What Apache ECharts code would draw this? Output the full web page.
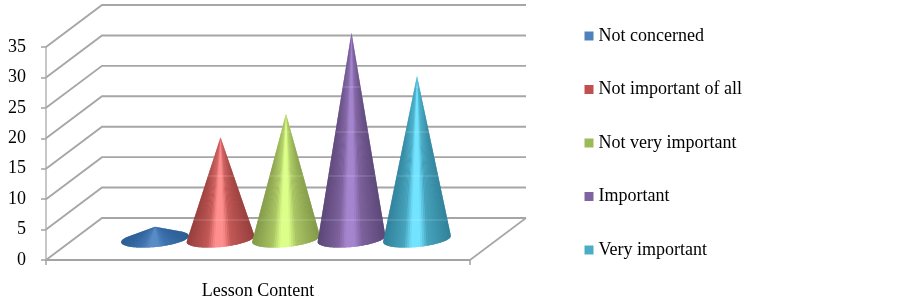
<!DOCTYPE html>
<html><head><meta charset="utf-8">
<style>html,body{margin:0;padding:0;background:#fff}#c{width:903px;height:300px}</style>
<script src="https://cdn.jsdelivr.net/npm/echarts@6/dist/echarts.min.js"></script>
</head><body><div id="c"></div>
<script>
const categories = ['Lesson Content'];
const seriesNames = ['Not concerned','Not important of all','Not very important','Important','Very important'];
const seriesValues = [2, 16.7, 20.6, 33.9, 26.8];
const yTicks = [0,5,10,15,20,25,30,35];
const legendColors = ['#4f81bd','#c0504d','#9bbb59','#8064a2','#4bacc6'];
const edgeColors = ['#2f5f96','#96403e','#82994a','#5c4878','#32829a'];
const midColors = ['#3f74b0','#c25856','#a9c463','#7d619c','#46a2bc'];
const lightColors = ['#5a8cc6','#ff8f8f','#dcff8a','#a585ce','#72e4ff'];

const FONT = '"Liberation Serif","Times New Roman",serif';
const DEPTH_X = 56, DEPTH_Y = 42, STEP = 65.5, RX = 34, RY = 8, TILT = -5.5 * Math.PI / 180;
const SEAMS = [87, 132, 176, 220];

function hull(pts) {
  const p = pts.slice().sort((a, b) => a[0] - b[0] || a[1] - b[1]);
  const cross = (o, a, b) => (a[0]-o[0])*(b[1]-o[1]) - (a[1]-o[1])*(b[0]-o[0]);
  const lo = [], up = [];
  for (const q of p) { while (lo.length > 1 && cross(lo[lo.length-2], lo[lo.length-1], q) <= 0) lo.pop(); lo.push(q); }
  for (const q of p.slice().reverse()) { while (up.length > 1 && cross(up[up.length-2], up[up.length-1], q) <= 0) up.pop(); up.push(q); }
  return lo.slice(0, -1).concat(up.slice(0, -1));
}

function seamLine(poly, y) {
  const xs = [];
  poly.forEach((a, k) => {
    const b = poly[(k + 1) % poly.length];
    if ((a[1] - y) * (b[1] - y) < 0) xs.push(a[0] + (y - a[1]) / (b[1] - a[1]) * (b[0] - a[0]));
  });
  if (xs.length < 2) return null;
  return {
    type: 'line',
    shape: { x1: Math.min(...xs), y1: y, x2: Math.max(...xs), y2: y },
    style: { stroke: 'rgba(255,255,255,0.22)', lineWidth: 1 }
  };
}

function shadeStops(i) {
  return [[0, edgeColors[i]], [0.3, midColors[i]], [0.42, lightColors[i]], [0.54, lightColors[i]], [0.66, midColors[i]], [1, edgeColors[i]]];
}

function shade(i, u) {
  const stops = shadeStops(i);
  for (let k = 1; k < stops.length; k++) {
    if (u <= stops[k][0]) {
      const t = (u - stops[k-1][0]) / (stops[k][0] - stops[k-1][0]);
      return echarts.color.lerp(Math.max(0, t), [stops[k-1][1], stops[k][1]]);
    }
  }
  return edgeColors[i];
}

function coneItem(i) {
  return function (params, api) {
    const base = api.coord([api.value(0), 0]);
    const top = api.coord([api.value(0), api.value(1)]);
    const cx = base[0] + DEPTH_X / 2 + (i - 2) * STEP;
    const cy = base[1] - DEPTH_Y / 2;
    const apex = [cx, top[1] - DEPTH_Y / 2];
    const pts = [apex];
    for (let k = 0; k < 96; k++) {
      const t = k / 96 * Math.PI * 2;
      const ex = RX * Math.cos(t), ey = RY * Math.sin(t);
      pts.push([cx + ex * Math.cos(TILT) - ey * Math.sin(TILT), cy + ex * Math.sin(TILT) + ey * Math.cos(TILT)]);
    }
    const poly = hull(pts);
    const at = poly.indexOf(apex);
    const rim = poly.slice(at + 1).concat(poly.slice(0, at));
    const xMin = Math.min(...rim.map(p => p[0])), xMax = Math.max(...rim.map(p => p[0]));
    const under = {
      type: 'polygon',
      shape: { points: poly },
      style: {
        fill: {
          type: 'linear', x: 0, y: 0, x2: 1, y2: 0,
          colorStops: shadeStops(i).map(s => ({ offset: s[0], color: s[1] }))
        }
      }
    };
    const fan = [];
    for (let k = 0; k + 1 < rim.length; k++) {
      const u = ((rim[k][0] + rim[k+1][0]) / 2 - xMin) / (xMax - xMin);
      fan.push({
        type: 'polygon',
        shape: { points: [apex, rim[k], rim[k+1]] },
        style: { fill: shade(i, u) }
      });
    }
    return { type: 'group', children: [under].concat(fan, SEAMS.map(y => seamLine(poly, y)).filter(Boolean)) };
  };
}

function wallItem(params, api) {
  const r = params.coordSys;
  const v = api.value(1);
  const y = api.coord([0, v])[1];
  const children = [{
    type: 'polyline',
    shape: { points: [[r.x, y], [r.x + DEPTH_X, y - DEPTH_Y], [r.x + r.width + DEPTH_X, y - DEPTH_Y]] },
    style: { stroke: '#a6a6a6', lineWidth: 1.9, fill: 'none' }
  }];
  if (v === 0) children.push({
    type: 'line',
    shape: { x1: r.x + r.width, y1: y, x2: r.x + r.width + DEPTH_X, y2: y - DEPTH_Y },
    style: { stroke: '#a6a6a6', lineWidth: 1.6 }
  });
  return { type: 'group', children };
}

const chart = echarts.init(document.getElementById('c'), null, { renderer: 'canvas' });
chart.setOption({
  animation: false,
  grid: { left: 46, width: 424, top: 47, height: 214 },
  legend: {
    orient: 'vertical', left: 579.5, top: 22, itemWidth: 9, itemHeight: 9, itemGap: 35.5,
    icon: 'rect', data: seriesNames, selectedMode: false,
    textStyle: { fontFamily: FONT, fontSize: 18, color: '#000', lineHeight: 18 }
  },
  xAxis: {
    type: 'category', data: categories,
    axisLine: { lineStyle: { color: '#a3a3a3', width: 2 } },
    axisTick: { show: true, length: 5, lineStyle: { color: '#a3a3a3', width: 1.5 } },
    axisLabel: { fontFamily: FONT, fontSize: 18, color: '#000', margin: 22 }
  },
  yAxis: {
    type: 'value', min: 0, max: 35, interval: 5,
    splitLine: { show: false },
    axisLine: { show: true, lineStyle: { color: '#b5b5b5', width: 1.5 } },
    axisTick: { show: true, length: 5, lineStyle: { color: '#a3a3a3', width: 1.5 } },
    axisLabel: { fontFamily: FONT, fontSize: 18, color: '#000', margin: 20, padding: [11, 0, 0, 0] }
  },
  series: [
    { type: 'custom', name: 'walls', silent: true, z: 1, renderItem: wallItem,
      data: yTicks.map(v => [0, v]), encode: { x: 0, y: 1 } }
  ].concat(seriesNames.map((name, i) => ({
    type: 'custom', name, z: 2 + i, renderItem: coneItem(i),
    itemStyle: { color: legendColors[i] },
    data: [[0, seriesValues[i]]], encode: { x: 0, y: 1 }
  })))
});
</script></body></html>
